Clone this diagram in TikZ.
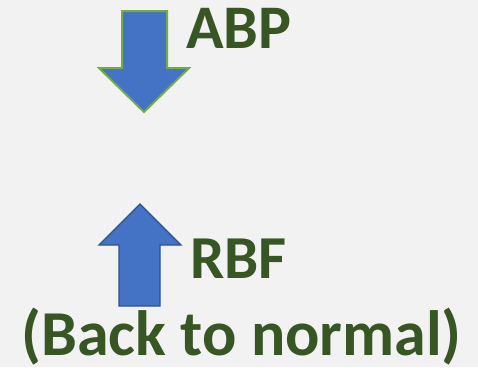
\documentclass[tikz,border=0pt]{standalone}
\usepackage{fontspec}
\setmainfont{Carlito}
\definecolor{bg}{HTML}{F2F2F2}
\definecolor{ablue}{HTML}{4472C4}
\definecolor{agreen}{HTML}{70AD47}
\definecolor{adark}{HTML}{2F528F}
\definecolor{tgreen}{HTML}{375623}
\begin{document}
\begin{tikzpicture}[x=1pt,y=-1pt,
  lbl/.style={text=tgreen,font=\fontsize{62}{72}\selectfont\bfseries,inner sep=0pt}]
\fill[bg] (0,0) rectangle (478,367);
\useasboundingbox (0,0) rectangle (478,367);
% down arrow
\draw[fill=ablue,draw=agreen,line width=2pt,line join=miter]
  (122,11) -- (167,11) -- (167,68) -- (189,68) -- (144,112) -- (99,68) -- (122,68) -- cycle;
% up arrow
\draw[fill=ablue,draw=adark,line width=1.3pt,line join=miter]
  (119,306) -- (119,245) -- (99,245) -- (140,204) -- (181,245) -- (160,245) -- (160,306) -- cycle;
\node[lbl,anchor=base west] (abp) at (186,48) {ABP};
\node[lbl,anchor=base west,font=\fontsize{61}{72}\selectfont\bfseries] (rbf) at (190,278) {RBF};
\node[lbl,anchor=base,font=\fontsize{64}{72}\selectfont\bfseries] (btn) at (241.5,355) {(Back to normal)};
\end{tikzpicture}
\end{document}
